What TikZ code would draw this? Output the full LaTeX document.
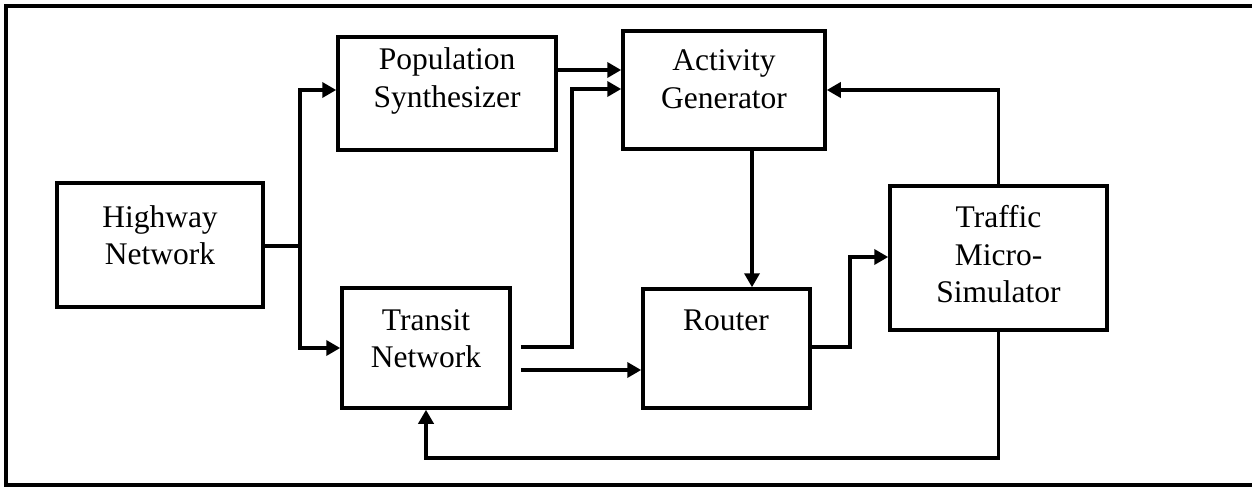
\documentclass[tikz,border=0pt]{standalone}
\usepackage{fontspec}
\setmainfont{Liberation Serif}
\usetikzlibrary{arrows.meta}

\tikzset{
  block/.style={draw=black, line width=3.5pt, rectangle, inner sep=0pt},
  blocktext/.style={align=center, anchor=base, inner sep=0pt,
    font=\fontsize{31.5}{37.5}\selectfont},
  wire/.style={draw=black, line width=3.5pt},
  flow/.style={wire, -{Triangle[length=14pt,width=15pt]}},
}

\begin{document}
\begin{tikzpicture}[x=1pt,y=-1pt]
\useasboundingbox (0,0) rectangle (1252,487);

% outer frame (right side runs past the page edge)
\draw[line width=4.5pt] (1270,6) -- (6,6) -- (6,485) -- (1270,485);

% blocks
\node[block, minimum width=206pt, minimum height=124pt] (hw)  at (160,245)   {};
\node[block, minimum width=218pt, minimum height=113pt] (pop) at (447,93.5)  {};
\node[block, minimum width=202pt, minimum height=118pt] (act) at (724,90)    {};
\node[block, minimum width=168pt, minimum height=120pt] (tr)  at (426,348)   {};
\node[block, minimum width=167pt, minimum height=119pt] (rt)  at (726.5,348.5) {};
\node[block, minimum width=217pt, minimum height=144pt] (tms) at (998.5,258) {};

% block texts
\node[blocktext] (hwT1)  at (160,227)   {Highway};
\node[blocktext] (hwT2)  at (160,264)   {Network};
\node[blocktext] (popT1) at (447,70)    {Population};
\node[blocktext] (popT2) at (447,107)   {Synthesizer};
\node[blocktext] (actT1) at (724,70.5)  {Activity};
\node[blocktext] (actT2) at (724,108)   {Generator};
\node[blocktext] (trT1)  at (426,330)   {Transit};
\node[blocktext] (trT2)  at (426,367)   {Network};
\node[blocktext] (rtT)   at (726,330)   {Router};
\node[blocktext] (tmsT1) at (998.5,227) {Traffic};
\node[blocktext] (tmsT2) at (998.5,265) {Micro-};
\node[blocktext] (tmsT3) at (998.5,302) {Simulator};

% helper points
\coordinate (split) at (300,246);
\coordinate (bottom) at (0,458);

% Highway Network feeds Population Synthesizer and Transit Network
\draw[wire] (hw.east |- split) -- (split);
\draw[flow] (split) |- ([yshift=3.5pt]pop.west);
\draw[flow] (split) |- (tr.west);

% Population Synthesizer -> Activity Generator
\draw[flow] ([yshift=23.5pt]pop.east) -- ([yshift=23.5pt]pop.east -| act.west);

% Transit Network -> Activity Generator
\draw[flow] ([xshift=9pt,yshift=1pt]tr.east) -- ++(51,0) |- ([yshift=1pt]act.west);

% Transit Network -> Router
\draw[flow] ([xshift=9pt,yshift=-22pt]tr.east) -- ([yshift=-22pt]tr.east -| rt.west);

% Activity Generator -> Router
\draw[flow] ([xshift=28pt]act.south) -- ([xshift=28pt]act.south |- rt.north);

% Router -> Traffic Micro-Simulator
\draw[flow] ([yshift=1.5pt]rt.east) -- ++(38,0) |- ([yshift=1pt]tms.west);

% Traffic Micro-Simulator -> Activity Generator
\draw[flow] (tms.north) |- (act.east);

% Traffic Micro-Simulator -> Transit Network
\draw[flow] (tms.south) -- (tms.south |- bottom) -| (tr.south);
\end{tikzpicture}
\end{document}
